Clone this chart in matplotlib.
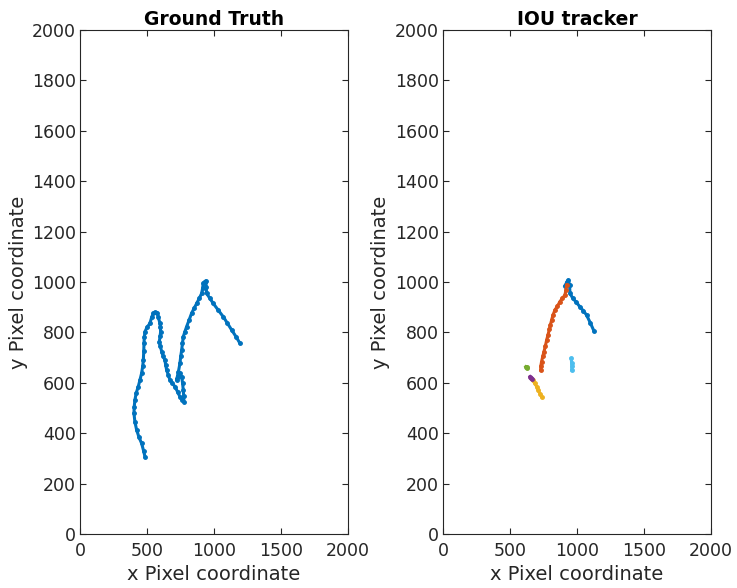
import matplotlib.pyplot as plt

# ground truth trajectory (pixel coordinates)
gt_x = [485, 475, 460, 440, 423, 410, 403, 405, 410, 420, 435, 448, 460, 468, 473, 476, 478, 480, 485,
        500, 522, 535, 547, 560, 577, 585, 597, 600, 602, 598, 592, 600, 610, 622, 634, 640, 647, 660, 672,
        690, 709, 728, 746, 762, 776, 774, 771, 766, 759, 745, 730, 721, 735, 746, 752, 759, 765, 771,
        783, 796, 815, 833, 852, 871, 890, 908, 915, 920, 930, 940, 942, 945, 970, 995, 1030, 1070,
        1100, 1132, 1165, 1194]
gt_y = [307, 330, 360, 385, 413, 445, 479, 505, 532, 560, 585, 612, 638, 665, 690, 725, 757, 780, 803,
        820, 836, 860, 876, 880, 878, 860, 836, 820, 803, 785, 763, 745, 724, 705, 690, 670, 651, 630, 611,
        598, 585, 565, 545, 533, 525, 548, 571, 598, 624, 640, 625, 611, 645, 677, 705, 730, 757, 783,
        803, 823, 850, 876, 896, 915, 935, 955, 975, 995, 1002, 1005, 980, 955, 935, 915, 890, 862,
        837, 810, 783, 757]

# IOU tracker trajectories
trk1_x = [910, 925, 935, 945, 948, 970, 995, 1022, 1048, 1072, 1100, 1127]
trk1_y = [985, 1000, 1008, 990, 955, 935, 920, 902, 886, 869, 838, 806]
trk2_x = [923, 918, 910, 890, 873, 855, 836, 822, 811, 802, 794, 784, 774, 764, 754, 745, 736, 731, 729]
trk2_y = [988, 968, 948, 935, 922, 905, 889, 870, 849, 830, 812, 790, 770, 745, 724, 705, 684, 668, 651]
trk3_x = [669, 685, 700, 712, 725, 736]
trk3_y = [611, 598, 585, 570, 556, 545]
trk4_x = [650, 657, 663]
trk4_y = [625, 620, 616]
trk5_x = [618, 624, 628]
trk5_y = [664, 661, 658]
trk6_x = [958, 960, 962, 960]
trk6_y = [697, 680, 665, 651]

colors = ['#0072BD', '#D95319', '#EDB120', '#7E2F8E', '#77AC30', '#4DBEEE']

plt.rcParams['font.family'] = ['DejaVu Sans']

fig = plt.figure(figsize=(7.37, 5.88), dpi=100)
ax1 = fig.add_axes([0.1085, 0.0918, 0.3636, 0.857])
ax2 = fig.add_axes([0.601, 0.0918, 0.3636, 0.857])

ax1.plot(gt_x, gt_y, '.-', color=colors[0], markersize=5, linewidth=2.2)

tracks = [(trk1_x, trk1_y), (trk2_x, trk2_y), (trk3_x, trk3_y),
          (trk4_x, trk4_y), (trk5_x, trk5_y), (trk6_x, trk6_y)]
for (tx, ty), c in zip(tracks, colors):
    ax2.plot(tx, ty, '.-', color=c, markersize=5, linewidth=2.2)

for ax, title in [(ax1, 'Ground Truth'), (ax2, 'IOU tracker')]:
    ax.set_xlim(0, 2000)
    ax.set_ylim(0, 2000)
    ax.set_xticks([0, 500, 1000, 1500, 2000])
    ax.set_yticks(range(0, 2001, 200))
    ax.tick_params(direction='in', top=True, right=True, labelsize=12.5,
                   colors='#262626', length=4, width=0.8, pad=3)
    ax.tick_params(axis='x', pad=6)
    for s in ax.spines.values():
        s.set_color('#262626')
        s.set_linewidth(0.8)
    ax.set_title(title, fontsize=13.5, fontweight='bold', pad=4)
    ax.set_xlabel('x Pixel coordinate', fontsize=14, color='#262626', labelpad=3)
    ax.set_ylabel('y Pixel coordinate', fontsize=14, color='#262626', labelpad=3)

fig.savefig('out.png', dpi=100)
